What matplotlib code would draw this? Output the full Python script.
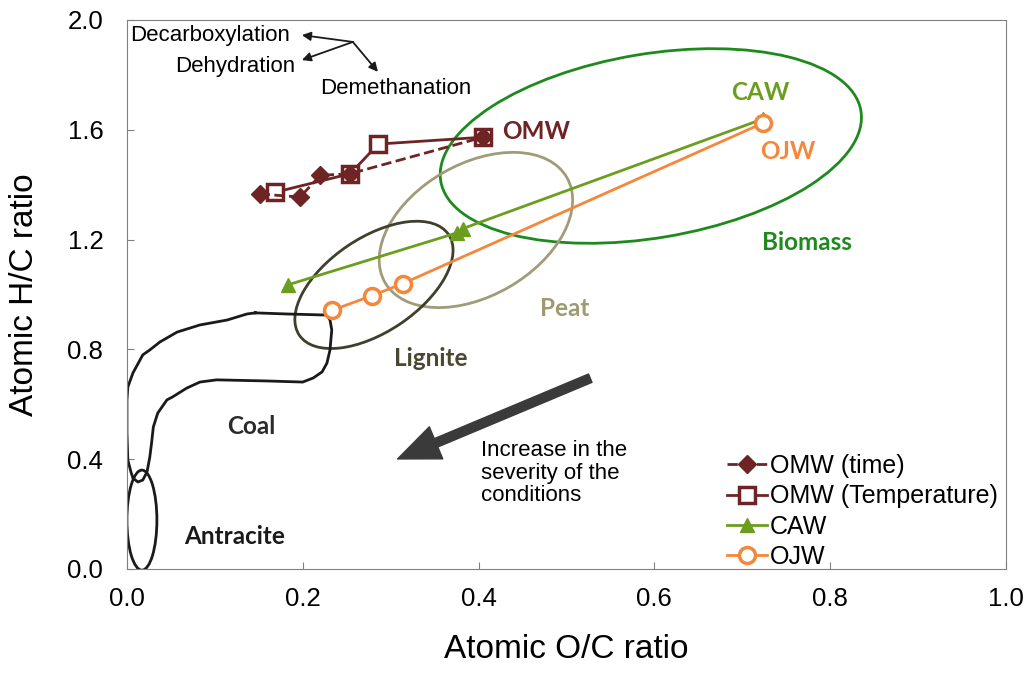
import matplotlib
matplotlib.use("Agg")
import matplotlib.pyplot as plt
import matplotlib.transforms as mtransforms
from matplotlib.patches import Ellipse, FancyArrowPatch
import numpy as np

plt.rcParams['font.family'] = ['Liberation Sans', 'DejaVu Sans']

# van Krevelen data (atomic ratios)
omw_time_oc = [0.151, 0.197, 0.220, 0.254, 0.405]
omw_time_hc = [1.366, 1.355, 1.434, 1.440, 1.573]

omw_temp_oc = [0.168, 0.254, 0.286, 0.405]
omw_temp_hc = [1.372, 1.440, 1.548, 1.573]

caw_oc = [0.183, 0.376, 0.382, 0.724]
caw_hc = [1.035, 1.225, 1.240, 1.640]

ojw_oc = [0.233, 0.279, 0.314, 0.724]
ojw_hc = [0.942, 0.996, 1.040, 1.625]

# coal band outline (O/C, H/C)
coal_oc = [0.146, 0.182, 0.2275, 0.231, 0.233, 0.231, 0.2275, 0.222, 0.212, 0.200,
           0.159, 0.102, 0.083, 0.068, 0.052, 0.0455, 0.035, 0.030, 0.028, 0.026,
           0.0228, 0.018, 0.0125, 0.0068, 0.0046, 0.001, 0.0, 0.0, 0.001, 0.0068,
           0.018, 0.026, 0.0375, 0.057, 0.083, 0.114, 0.1365, 0.146]
coal_hc = [0.933, 0.929, 0.925, 0.907, 0.871, 0.798, 0.750, 0.718, 0.696, 0.681,
           0.685, 0.689, 0.681, 0.659, 0.627, 0.616, 0.568, 0.517, 0.459, 0.408,
           0.353, 0.324, 0.317, 0.331, 0.353, 0.397, 0.495, 0.616, 0.663, 0.714,
           0.780, 0.798, 0.827, 0.863, 0.889, 0.907, 0.929, 0.933]

maroon = '#6e2424'
green = '#6b9e1f'
orange = '#f5873a'


def region_ellipse(ax, x, y, w, h, angle, color):
    # size given in inches so the shape does not depend on the axis scales
    trans = ax.figure.dpi_scale_trans + mtransforms.ScaledTranslation(x, y, ax.transData)
    e = Ellipse((0, 0), w, h, angle=angle, transform=trans, fill=False,
                edgecolor=color, linewidth=2, zorder=2)
    ax.add_patch(e)


def region_label(ax, x, y, text, color):
    ax.text(x, y, text, color=color, fontsize=17.5, fontweight='bold',
            family=['Lato', 'DejaVu Sans'], ha='center', va='center')


fig = plt.figure(figsize=(10.33, 6.82), dpi=100)
ax = fig.add_axes([0.1229, 0.1657, 0.8509, 0.805])

# regions
region_ellipse(ax, 0.596, 1.541, 4.26, 1.84, 9.5, '#1e8a1e')
region_ellipse(ax, 0.397, 1.235, 2.10, 1.32, 30, '#a19c78')
region_ellipse(ax, 0.281, 1.035, 1.80, 0.94, 34, '#3f3f2c')
region_ellipse(ax, 0.017, 0.178, 0.30, 1.00, 0, '#1a1a1a')
ax.plot(coal_oc, coal_hc, color='#1a1a1a', lw=2, zorder=2)

# series
l_temp, = ax.plot(omw_temp_oc, omw_temp_hc, '-s', color=maroon, lw=2, ms=11.5,
                  mfc='white', mec=maroon, mew=2.5, zorder=4,
                  label='OMW (Temperature)')
l_time, = ax.plot(omw_time_oc, omw_time_hc, '--D', color=maroon, lw=2, ms=9,
                  mfc=maroon, mec=maroon, zorder=5, label='OMW (time)')
l_caw, = ax.plot(caw_oc, caw_hc, '-^', color=green, lw=2, ms=10.5, zorder=4,
                 label='CAW')
l_ojw, = ax.plot(ojw_oc, ojw_hc, '-o', color=orange, lw=2, ms=11.5,
                 mfc='white', mec=orange, mew=2.5, zorder=4, label='OJW')

# labels on the chart
region_label(ax, 0.466, 1.595, 'OMW', maroon)
region_label(ax, 0.720, 1.737, 'CAW', green)
region_label(ax, 0.752, 1.522, 'OJW', orange)
region_label(ax, 0.774, 1.191, 'Biomass', '#1e8a1e')
region_label(ax, 0.498, 0.950, 'Peat', '#a09a70')
region_label(ax, 0.346, 0.765, 'Lignite', '#4a4830')
region_label(ax, 0.141, 0.518, 'Coal', '#2a2a2a')
region_label(ax, 0.122, 0.120, 'Antracite', '#1a1a1a')

# reaction pathways
ax.text(0.004, 1.942, 'Decarboxylation', fontsize=16, ha='left', va='center')
ax.text(0.192, 1.832, 'Dehydration', fontsize=16, ha='right', va='center')
ax.text(0.2196, 1.749, 'Demethanation', fontsize=16, ha='left', va='center')
for tip in [(0.199, 1.945), (0.199, 1.854), (0.2855, 1.811)]:
    ax.annotate('', xy=tip, xytext=(0.257, 1.92),
                arrowprops=dict(arrowstyle='-|>', color='#1a1a1a', lw=1.3,
                                mutation_scale=13, shrinkA=0, shrinkB=0))

# severity arrow
big = FancyArrowPatch((0.530, 0.699), (0.305, 0.397),
                      arrowstyle='simple,head_width=2.5,head_length=3.0,tail_width=0.65',
                      mutation_scale=10, color='#3a3a3a', zorder=3)
ax.add_patch(big)
ax.text(0.403, 0.469, 'Increase in the\nseverity of the\nconditions', fontsize=16,
        ha='left', va='top', linespacing=1.1)

ax.set_xlim(0, 1.0)
ax.set_ylim(0, 2.0)
ax.set_xticks(np.arange(0, 1.01, 0.2))
ax.set_yticks(np.arange(0, 2.01, 0.4))
ax.xaxis.set_major_formatter(matplotlib.ticker.FormatStrFormatter('%.1f'))
ax.yaxis.set_major_formatter(matplotlib.ticker.FormatStrFormatter('%.1f'))
ax.tick_params(direction='in', length=5, color='#808080', labelsize=18.5)
ax.tick_params(axis='x', pad=13)
ax.tick_params(axis='y', pad=17)
for s in ax.spines.values():
    s.set_color('#808080')

ax.set_xlabel('Atomic O/C ratio', fontsize=24)
ax.set_ylabel('Atomic H/C ratio', fontsize=24, va='center', ha='center')
ax.xaxis.set_label_coords(0.5, -0.118)
ax.yaxis.set_label_coords(-0.116, 0.5)

ax.legend(handles=[l_time, l_temp, l_caw, l_ojw], loc='upper left',
          bbox_to_anchor=(0.683, 0.209), frameon=False, fontsize=18,
          handlelength=1.6, handletextpad=0.1, labelspacing=0.25,
          borderpad=0, borderaxespad=0)

fig.savefig('out.png', dpi=100)
